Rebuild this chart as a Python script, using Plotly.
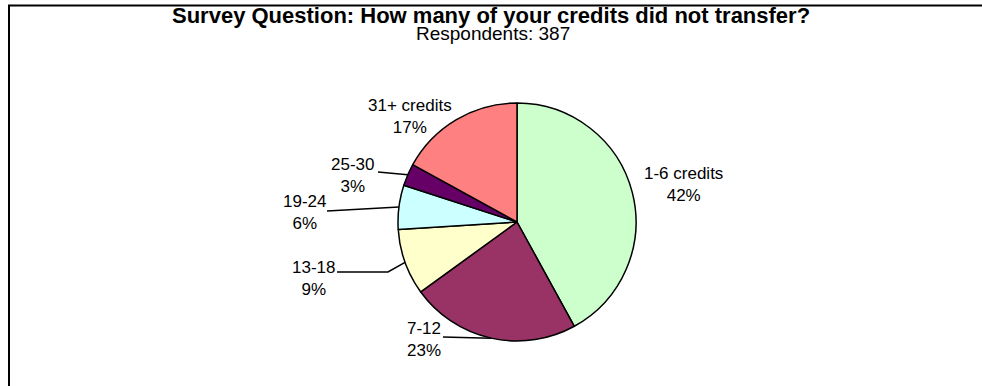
import math
import plotly.graph_objects as go

# ---- data ----
categories = ["1-6 credits", "7-12", "13-18", "19-24", "25-30", "31+ credits"]
percent = [42, 23, 9, 6, 3, 17]
colors = ["#CCFFCC", "#993366", "#FFFFCC", "#CCFFFF", "#660066", "#FF8080"]
title_text = "Survey Question: How many of your credits did not transfer?"
subtitle_text = "Respondents: 387"

# ---- layout (pixels) ----
W, H = 982, 386
cx, cy, R = 517, 222, 119
# label block centres (px)
label_pos = [(683, 185), (424, 339), (313, 278), (304, 213), (352, 175), (410, 117)]
# leader line start (px) and elbow x, None for no leader
leader_start = [None, (443, 337), (337, 272), (327, 211), (378, 172), None]
leader_elbow = [None, None, 388, None, None, None]


def px(x):
    return x / W


def py(y):
    return 1 - y / H


fig = go.Figure()
fig.add_trace(go.Pie(
    labels=categories,
    values=percent,
    sort=False,
    direction="clockwise",
    rotation=0,
    marker=dict(colors=colors, line=dict(color="black", width=1.5)),
    textinfo="none",
    hoverinfo="label+percent",
    showlegend=False,
    domain=dict(x=[px(cx - R), px(cx + R)], y=[py(cy + R), py(cy - R)]),
))

annotations = []
shapes = []
total = sum(percent)
cum = 0
for i, (cat, v) in enumerate(zip(categories, percent)):
    mid = (cum + v / 2) / total * 2 * math.pi
    cum += v
    ex = cx + R * math.sin(mid)
    ey = cy - R * math.cos(mid)
    lx, ly = label_pos[i]
    annotations.append(dict(
        x=px(lx), y=py(ly), xref="paper", yref="paper",
        text=f"{cat}<br>{v}%", showarrow=False,
        xanchor="center", yanchor="middle", align="center",
        font=dict(family="Liberation Sans, Arial", size=17, color="black"),
    ))
    if leader_start[i] is not None:
        sx, sy = leader_start[i]
        pts = [(sx, sy)]
        if leader_elbow[i] is not None:
            pts.append((leader_elbow[i], sy))
        pts.append((ex, ey))
        path = "M " + " L ".join(f"{px(a)},{py(b)}" for a, b in pts)
        shapes.append(dict(type="path", path=path, xref="paper", yref="paper",
                           line=dict(color="black", width=1.5)))

annotations.append(dict(
    x=px(491), y=py(15), xref="paper", yref="paper", text=f"<b>{title_text}</b>",
    showarrow=False, xanchor="center", yanchor="middle",
    font=dict(family="Liberation Sans, Arial", size=22, color="black"),
))
annotations.append(dict(
    x=px(493), y=py(34), xref="paper", yref="paper", text=subtitle_text,
    showarrow=False, xanchor="center", yanchor="middle",
    font=dict(family="Liberation Sans, Arial", size=19, color="black"),
))

# chart frame
shapes.append(dict(type="rect", xref="paper", yref="paper",
                   x0=px(9), y0=-0.1, x1=1.1, y1=py(5.5),
                   line=dict(color="black", width=2), fillcolor="rgba(0,0,0,0)"))

fig.update_layout(
    width=W, height=H,
    margin=dict(l=0, r=0, t=0, b=0),
    paper_bgcolor="white", plot_bgcolor="white",
    annotations=annotations, shapes=shapes,
)
fig.write_html(
    "out.html",
    config={"displayModeBar": False},
    post_script="document.body.style.margin='0';document.body.style.overflow='hidden';",
)
